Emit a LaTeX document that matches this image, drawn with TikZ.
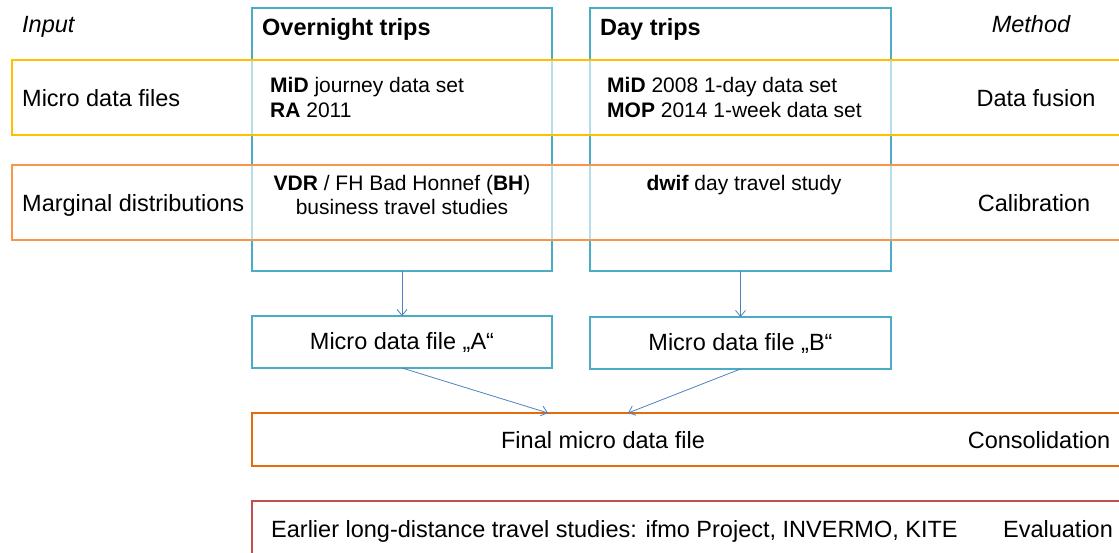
\documentclass[tikz,border=0pt]{standalone}
\usepackage{fontspec}
\setmainfont{Liberation Sans}
\usetikzlibrary{arrows.meta,positioning}
\definecolor{colblue}{HTML}{4BACC6}
\definecolor{fusionyellow}{HTML}{FFC000}
\definecolor{calorange}{HTML}{F79646}
\definecolor{consorange}{HTML}{E46C0A}
\definecolor{evalred}{HTML}{C0504D}
\definecolor{flowblue}{HTML}{4F81BD}
\tikzset{
  colbox/.style={draw=colblue, line width=2.4pt, anchor=north west, inner sep=0pt, outer sep=0pt,
                 minimum width=300pt, minimum height=263pt},
  band/.style={draw=#1, line width=2.4pt, fill=white, fill opacity=0.6, anchor=north west,
               inner sep=0pt, outer sep=0pt, minimum width=1130pt, minimum height=75pt},
  filebox/.style={draw=colblue, line width=2.4pt, inner sep=0pt, outer sep=0pt,
                  minimum width=300pt, minimum height=52pt, font=\fontsize{23.5}{28}\selectfont},
  stagebox/.style={draw=#1, line width=2.4pt, anchor=north west, inner sep=0pt, outer sep=0pt,
                   minimum width=888pt},
  lbl/.style={font=\fontsize{23.5}{28}\selectfont, inner sep=0pt},
  cell/.style={font=\fontsize{21}{25}\selectfont, inner sep=0pt},
  flow/.style={draw=flowblue, line width=0.8pt, -{Straight Barb[length=6pt,width=10pt]}}
}

\begin{document}
\begin{tikzpicture}[x=1pt, y=-1pt]
\useasboundingbox (0,0) rectangle (1119,553);
\clip (0,0) rectangle (1119,553);
% columns and bands
\node[colbox] (overnight) at (252,8) {};
\node[colbox, minimum width=301pt] (day) at (590,8) {};
\node[band=fusionyellow] (fusionband) at (12,60) {};
\node[band=calorange] (calband) at (12,165) {};
% headings
\node[lbl, anchor=base west, font=\fontsize{23.5}{28}\selectfont\itshape] (input) at (22,33) {Input};
\node[lbl, anchor=base west, font=\fontsize{23.5}{28}\selectfont\bfseries] (overhead) at (262,36) {Overnight trips};
\node[lbl, anchor=base west, font=\fontsize{23.5}{28}\selectfont\bfseries] (dayhead) at (600,36) {Day trips};
\node[lbl, anchor=base, font=\fontsize{23.5}{28}\selectfont\itshape] (method) at (1031,33) {Method};
% micro data row
\node[lbl, anchor=base west] (microlbl) at (22,107) {Micro data files};
\node[cell, anchor=base west] (midover) at (270,93) {\textbf{MiD} journey data set};
\node[cell, anchor=base west] (raover) at (270,118) {\textbf{RA} 2011};
\node[cell, anchor=base west] (midday) at (607,93) {\textbf{MiD} 2008 1-day data set};
\node[cell, anchor=base west] (mopday) at (607,118) {\textbf{MOP} 2014 1-week data set};
\node[lbl, anchor=base] (fusion) at (1036,107) {Data fusion};
% marginal row
\node[lbl, anchor=base west] (marglbl) at (22,212) {Marginal distributions};
\node[cell, anchor=base] (vdr) at (402,191) {\textbf{VDR} / FH Bad Honnef (\textbf{BH})};
\node[cell, anchor=base] (business) at (402,215) {business travel studies};
\node[cell, anchor=base] (dwif) at (744,191) {\textbf{dwif} day travel study};
\node[lbl, anchor=base] (calib) at (1034,212) {Calibration};
% micro data files
\node[filebox, below=45pt of overnight] (fileA) {Micro data file „A“};
\node[filebox, below=46pt of day, minimum width=301pt] (fileB) {Micro data file „B“};
% consolidation and evaluation
\node[stagebox=consorange, minimum height=53pt] (final) at (252,413) {};
\node[lbl, anchor=base] (finallbl) at (603,448) {Final micro data file};
\node[lbl, anchor=base] (consol) at (1039,448) {Consolidation};
\node[stagebox=evalred, draw=evalred, line width=2pt, minimum height=100pt] (earlier) at (252,501) {};
\node[lbl, anchor=base west] (earlierlbl) at (271,537) {Earlier long-distance travel studies: ifmo Project, INVERMO, KITE};
\node[lbl, anchor=base] (evallbl) at (1058,537) {Evaluation};
% connectors
\coordinate (inA) at (548,413);
\coordinate (inB) at (628,413);
\draw[flow] (overnight.south) -- (fileA.north);
\draw[flow] (day.south) -- (fileB.north);
\draw[flow] (fileA.south) -- (inA);
\draw[flow] (fileB.south) -- (inB);
\end{tikzpicture}
\end{document}
